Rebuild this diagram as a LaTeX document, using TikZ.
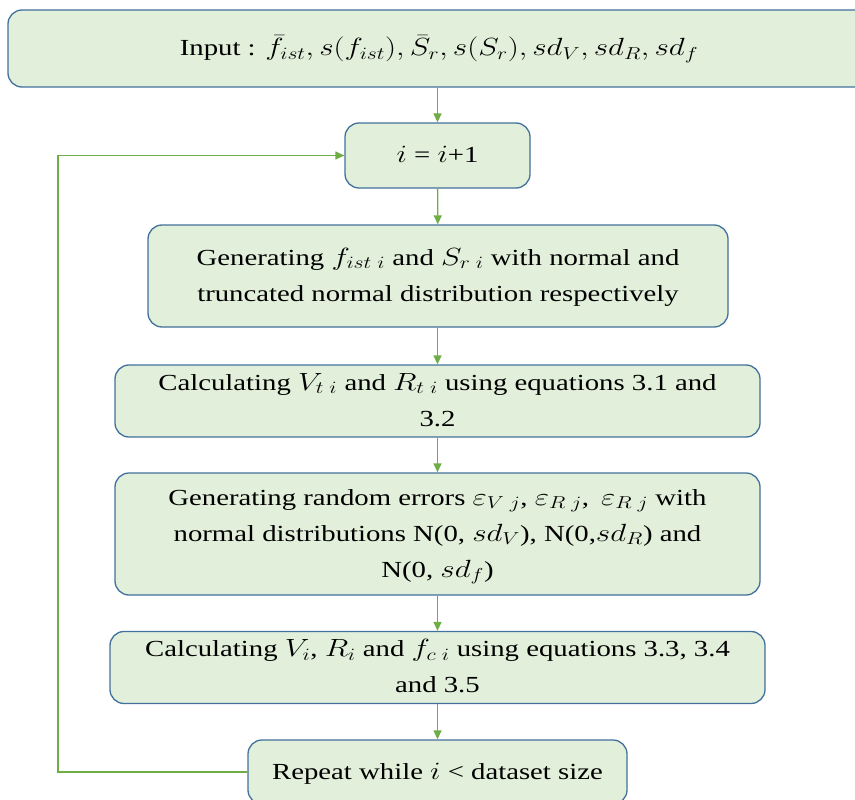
\documentclass[tikz,border=0pt]{standalone}
\usepackage{fontspec}
\usepackage{graphicx}
\setmainfont{Liberation Serif}
\usetikzlibrary{arrows.meta}
\definecolor{boxfill}{HTML}{E2EFDA}
\definecolor{boxline}{HTML}{41719C}
\definecolor{arrowc}{HTML}{70AD47}
\newcommand{\wtxt}[1]{\scalebox{1.25}[1]{\begin{tabular}{@{}c@{}}#1\end{tabular}}}
\tikzset{
  box/.style={draw=boxline, fill=boxfill, line width=1.3pt, rounded corners=14pt,
    align=center, inner sep=0pt, font=\fontsize{23}{36}\selectfont},
  flow/.style={draw=arrowc, line width=1.3pt, -{Triangle[length=9pt,width=8pt]}},
}
\begin{document}
\begin{tikzpicture}[x=1pt,y=-1pt]
\useasboundingbox (0,0) rectangle (855,800);
\node[box, minimum width=862pt, minimum height=77pt] (in) at (439,48.5)
  {\wtxt{Input : $\bar{f}_{ist}, s(f_{ist}), \bar{S}_r, s(S_r), sd_V, sd_R, sd_f$}};
\node[box, minimum width=185pt, minimum height=65pt] (inc) at (437.5,155.5)
  {\wtxt{$i$ = $i$+1}};
\node[box, minimum width=580pt, minimum height=102pt] (gen) at (438,276)
  {\wtxt{Generating $f_{ist\;i}$ and $S_{r\;i}$ with normal and\\truncated normal distribution respectively}};
\node[box, minimum width=645pt, minimum height=72pt] (calc1) at (437.5,401)
  {\wtxt{Calculating $V_{t\;i}$ and $R_{t\;i}$ using equations 3.1 and\\3.2}};
\node[box, minimum width=645pt, minimum height=122pt] (err) at (437.5,534)
  {\wtxt{Generating random errors $\varepsilon_{V\;j}$, $\varepsilon_{R\;j}$, \,$\varepsilon_{R\;j}$ with\\normal distributions N(0, $sd_V$), N(0,$sd_R$) and\\N(0, $sd_f$)}};
\node[box, minimum width=655pt, minimum height=71pt] (calc2) at (437.5,667.5)
  {\wtxt{Calculating $V_i$, $R_i$ and $f_{c\;i}$ using equations 3.3, 3.4\\and 3.5}};
\node[box, minimum width=379pt, minimum height=64pt] (rep) at (437.5,772)
  {\wtxt{Repeat while $i$ < dataset size}};
\draw[flow] (in.south -| inc.north) -- (inc.north);
\draw[flow] (inc) -- (gen);
\draw[flow] (gen.south -| calc1.north) -- (calc1.north);
\draw[flow] (calc1) -- (err);
\draw[flow] (err) -- (calc2);
\draw[flow] (calc2) -- (rep);
\coordinate (lp) at (58,772);
\draw[flow] (rep.west) -- (lp) |- (inc.west);
\end{tikzpicture}
\end{document}
